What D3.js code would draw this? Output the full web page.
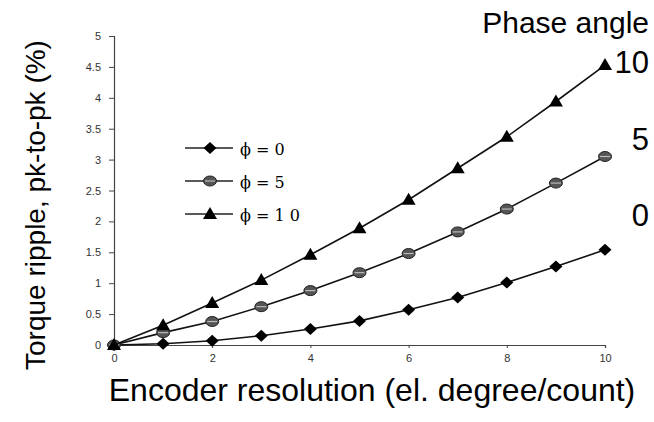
<!DOCTYPE html>
<html>
<head>
    <meta charset="UTF-8">
    <style>
        body { margin: 0; background: #fff; }
        svg { display: block; }
        .tick text { fill: #333; font-family: Arial, "Liberation Sans", sans-serif; font-size: 11px; }
    </style>
</head>
<body>
    <svg></svg>
    <script src="https://d3js.org/d3.v7.min.js"></script>
    <script>
        let width = 654, height = 422;

        // data
        let resolution = [0, 1, 2, 3, 4, 5, 6, 7, 8, 9, 10];
        let phi0 = [0, 0.02, 0.07, 0.15, 0.26, 0.39, 0.57, 0.77, 1.01, 1.27, 1.54];
        let phi5 = [0, 0.20, 0.38, 0.62, 0.88, 1.17, 1.48, 1.83, 2.20, 2.62, 3.05];
        let phi10 = [0, 0.32, 0.68, 1.05, 1.46, 1.89, 2.35, 2.86, 3.37, 3.94, 4.53];
        let yTicks = [0, 0.5, 1, 1.5, 2, 2.5, 3, 3.5, 4, 4.5, 5];
        let xTicks = [0, 2, 4, 6, 8, 10];
        let seriesNames = ["\u03d5 = 0", "\u03d5 = 5", "\u03d5 = 1 0"];
        let phaseLabels = ["10", "5", "0"];

        let svg = d3.select("svg").attr("width", width).attr("height", height);

        let x = d3.scaleLinear().domain([0, 10]).range([114, 605]);
        let y = d3.scaleLinear().domain([0, 5]).range([345, 36]);

        // axes
        let yAxis = svg.append("g")
            .attr("transform", "translate(114,0)")
            .call(d3.axisLeft(y).tickValues(yTicks).tickSize(5).tickPadding(6)
                .tickFormat(d => String(d)));
        let xAxis = svg.append("g")
            .attr("transform", "translate(0,345)")
            .call(d3.axisBottom(x).tickValues(xTicks).tickSize(3).tickPadding(6));
        svg.selectAll(".domain").attr("stroke", "#444").attr("stroke-width", 1.2);
        svg.selectAll(".tick line").attr("stroke", "#444");
        yAxis.selectAll(".tick text").attr("dx", "-2");

        let line = d3.line().x((d, i) => x(resolution[i])).y(d => y(d));

        let series = [
            { name: seriesNames[0], values: phi0, marker: "diamond" },
            { name: seriesNames[1], values: phi5, marker: "ellipse" },
            { name: seriesNames[2], values: phi10, marker: "triangle" }
        ];

        function drawMarker(g, type) {
            if (type === "diamond") {
                g.append("path").attr("d", "M0,-6L6.5,0L0,6L-6.5,0Z").attr("fill", "#000");
            } else if (type === "triangle") {
                g.append("path").attr("d", "M0,-7L7,5L-7,5Z").attr("fill", "#000");
            } else {
                g.append("ellipse").attr("rx", 6.5).attr("ry", 5).attr("fill", "#555").attr("stroke", "#222").attr("stroke-width", 1);
                g.append("line").attr("x1", -5).attr("x2", 5).attr("y1", 0).attr("y2", 0).attr("stroke", "#bbb").attr("stroke-width", 1.2);
            }
        }

        series.forEach(s => {
            svg.append("path")
                .datum(s.values)
                .attr("d", line)
                .attr("fill", "none")
                .attr("stroke", "#111")
                .attr("stroke-width", 1.6);
            svg.append("g").selectAll("g")
                .data(s.values)
                .enter()
                .append("g")
                .attr("transform", (d, i) => "translate(" + x(resolution[i]) + "," + y(d) + ")")
                .each(function () { drawMarker(d3.select(this), s.marker); });
        });

        // legend
        let legend = svg.append("g").attr("transform", "translate(185,148)");
        series.forEach((s, i) => {
            let row = legend.append("g").attr("transform", "translate(0," + (i * 33) + ")");
            row.append("line").attr("x1", 0).attr("x2", 48).attr("stroke", "#222").attr("stroke-width", 1.5);
            drawMarker(row.append("g").attr("transform", "translate(25,0)"), s.marker);
            row.append("text")
                .attr("x", 55).attr("y", 1)
                .attr("dominant-baseline", "central")
                .style("font-family", "'DejaVu Serif', 'Liberation Serif', serif")
                .style("font-size", "16px")
                .text(s.name);
        });

        // right-side phase angle labels
        let bigFont = "Arial, 'Liberation Sans', sans-serif";
        svg.append("text").attr("x", 649).attr("y", 33).attr("text-anchor", "end")
            .style("font-family", bigFont).style("font-size", "30px").text("Phase angle");
        let phaseY = [62, 139, 215];
        phaseLabels.forEach((t, i) => {
            svg.append("text").attr("x", 649).attr("y", phaseY[i]).attr("text-anchor", "end")
                .attr("dominant-baseline", "central")
                .style("font-family", bigFont).style("font-size", "31px").text(t);
        });

        // axis titles
        svg.append("text")
            .attr("transform", "translate(45,205) rotate(-90)")
            .attr("text-anchor", "middle")
            .style("font-family", bigFont).style("font-size", "28px")
            .text("Torque ripple, pk-to-pk (%)");
        svg.append("text")
            .attr("x", 372).attr("y", 401)
            .attr("text-anchor", "middle")
            .style("font-family", bigFont).style("font-size", "32px")
            .text("Encoder resolution (el. degree/count)");
    </script>
</body>
</html>
